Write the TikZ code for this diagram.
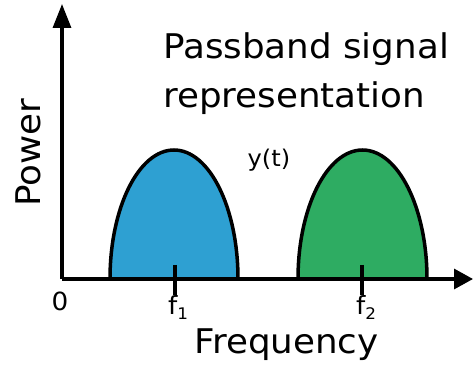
\documentclass[tikz,border=0pt]{standalone}
\usepackage{fontspec}
\setmainfont[FakeStretch=1.05]{DejaVu Sans}
\usetikzlibrary{arrows.meta}
\definecolor{humpblue}{RGB}{46,160,210}
\definecolor{humpgreen}{RGB}{46,172,98}
\tikzset{
  axis/.style={line width=3.3pt},
  hump/.style={line width=3.5pt, draw=black},
  tick/.style={line width=3.3pt},
  lbl/.style={inner sep=0pt, anchor=base},
}
\begin{document}
\begin{tikzpicture}[x=1pt,y=1pt]
\useasboundingbox (0,0) rectangle (473,369);
% humps
\filldraw[hump, fill=humpblue] (110,90) arc[start angle=180, end angle=0, x radius=64, y radius=129] -- cycle;
\filldraw[hump, fill=humpgreen] (298,90) arc[start angle=180, end angle=0, x radius=64.5, y radius=129] -- cycle;
% axes
\coordinate (O) at (62,90);
\coordinate (ytip) at (62,365);
\coordinate (xtip) at (473,90);
\draw[axis, -{Triangle[length=24pt,width=18pt]}] (O) -- (ytip);
\draw[axis, -{Triangle[length=19pt,width=20pt]}] (O) -- (xtip);
% ticks
\coordinate (t1a) at (175,104);
\coordinate (t1b) at (175,74);
\coordinate (t2a) at (362,104);
\coordinate (t2b) at (362,74);
\draw[tick] (t1a) -- (t1b);
\draw[tick] (t2a) -- (t2b);
% labels
\node[lbl] (zero) at (60,59) {\fontsize{25}{25}\selectfont 0};
\node[lbl] (f1) at (178,54) {\fontsize{25}{25}\selectfont f\raisebox{-5pt}{\fontsize{16}{16}\selectfont 1}};
\node[lbl] (f2) at (366,54) {\fontsize{25}{25}\selectfont f\raisebox{-5pt}{\fontsize{16}{16}\selectfont 2}};
\node[lbl] (freq) at (286.5,16) {\fontsize{34}{34}\selectfont Frequency};
\node[lbl, rotate=90] (power) at (40,216.5) {\fontsize{34}{34}\selectfont Power};
\node[inner sep=0pt] (yt) at (269,209) {\fontsize{23}{23}\selectfont y(t)};
\node[lbl, anchor=base west] (title1) at (163,310) {\fontsize{34}{34}\selectfont Passband signal};
\node[lbl, anchor=base west] (title2) at (163,261) {\fontsize{34}{34}\selectfont representation};
\end{tikzpicture}
\end{document}
